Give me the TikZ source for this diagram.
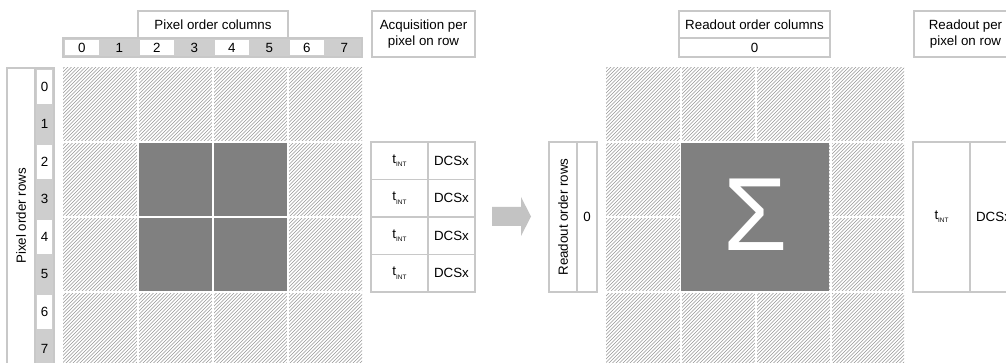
\documentclass[tikz,border=0pt]{standalone}
\usepackage{fontspec}
\setmainfont{Liberation Sans}
\usetikzlibrary{fit}
\definecolor{bordergray}{RGB}{200,200,200}
\definecolor{cellgray}{RGB}{206,206,206}
\definecolor{darkfill}{RGB}{128,128,128}
\definecolor{hatchgray}{RGB}{150,150,150}
\definecolor{arrowgray}{RGB}{195,195,195}
\newcommand{\tint}{t\raisebox{-2.4pt}{\fontsize{4.8}{5}\selectfont INT}}
\begin{document}
\begin{tikzpicture}[x=0.75pt,y=-0.75pt,
  font=\fontsize{10}{12.6}\selectfont,
  bx/.style={draw=bordergray,line width=1.2pt,inner sep=0pt,fill=white},
  strip/.style={draw=bordergray,line width=1.2pt,inner sep=0pt,fill=cellgray},
  cell/.style={inner sep=0pt,draw=none},
  txt/.style={inner sep=0pt,align=center},
  dk/.style={fill=darkfill,inner sep=0pt,draw=none},
  hatchline/.style={draw=hatchgray,line width=0.42pt},
  gap/.style={fill=white}]
\useasboundingbox (0,0) rectangle (1006,363);
\clip (0,0) rectangle (1006,363);

% ---------- left grid ----------
\begin{scope}
  \clip (63,68) rectangle (362,370);
  \foreach \i in {0,...,172} \draw[hatchline] ({63-305+3.5*\i},370) -- ++(305,-305);
\end{scope}
\foreach \g in {137,212,287} \fill[gap] (\g,68) rectangle ({\g+2},370);
\foreach \g in {141,216,291} \fill[gap] (63,\g) rectangle (362,{\g+2});
\node[dk,fit={(139,143) (212,216)}] (g22) {};
\node[dk,fit={(214,143) (287,216)}] (g23) {};
\node[dk,fit={(139,218) (212,291)}] (g32) {};
\node[dk,fit={(214,218) (287,291)}] (g33) {};

% column header
\node[bx,fit={(138,11) (288,38)}] (pcol) {};
\node[txt] (pcolt) at (pcol.center) {Pixel order columns};
\node[strip,fit={(63,38) (362,57)}] (cstrip) {};
\foreach \k/\f in {0/white,1/cellgray,2/white,3/cellgray,4/white,5/cellgray,6/white,7/cellgray} {
  \node[cell,fill=\f,fit={({63+37.5*\k+1.6},39.6) ({63+37.5*\k+35.9},55.4)}] (pc\k) {};
  \node[txt] (pct\k) at (pc\k.center) {\k};
}

% row header
\node[bx,fit={(7,68) (35,368)}] (prow) {};
\node[txt,rotate=90] (prowl) at (21,216) {Pixel order rows};
\node[strip,fit={(35,68) (54,380)}] (rstrip) {};
\foreach \k/\f in {0/white,1/cellgray,2/white,3/cellgray,4/white,5/cellgray,6/white,7/cellgray} {
  \node[cell,fill=\f,fit={(36.6,{68+37.5*\k+1.6}) (52.4,{68+37.5*\k+35.9})}] (pr\k) {};
  \node[txt] (prt\k) at (pr\k.center) {\k};
}

% acquisition
\node[bx,fit={(372,11) (475,57)}] (acq) {};
\node[txt] (acqt) at (acq.center) {Acquisition per\\pixel on row};
\foreach \k in {0,1,2,3} {
  \node[bx,fit={(371,{142+37.5*\k}) (428,{142+37.5*(\k+1)})}] (at\k) {};
  \node[txt] (att\k) at (at\k.center) {\tint};
  \node[bx,fit={(428,{142+37.5*\k}) (475,{142+37.5*(\k+1)})}] (ad\k) {};
  \node[txt] (adt\k) at (ad\k.center) {DCSx};
}

% block arrow
\fill[arrowgray] (492,207) -- (521,207) -- (521,197) -- (531,216.5) -- (521,236) -- (521,226) -- (492,226) -- cycle;

% ---------- right grid ----------
\begin{scope}
  \clip (606,68) rectangle (904,370);
  \foreach \i in {0,...,172} \draw[hatchline] ({606-305+3.5*\i},370) -- ++(305,-305);
\end{scope}
\foreach \g in {679.5,754.5,829.5} \fill[gap] (\g,68) rectangle ({\g+2},370);
\foreach \g in {141,216,291} \fill[gap] (606,\g) rectangle (904,{\g+2});
\node[dk,fit={(681,143) (829,291)}] (sum) {};
\node[txt,text=white,font=\fontsize{78}{78}\selectfont] (sumt) at (756,215) {Σ};

\node[bx,fit={(679,11) (830,38)}] (rcol) {};
\node[txt] (rcolt) at (rcol.center) {Readout order columns};
\node[bx,fit={(679,38) (830,57)}] (rcol0) {};
\node[txt] (rcol0t) at (rcol0.center) {0};

\node[bx,fit={(549,142) (577,292)}] (rrow) {};
\node[txt,rotate=90] (rrowl) at (rrow.center) {Readout order rows};
\node[bx,fit={(577,142) (597,292)}] (rrow0) {};
\node[txt] (rrow0t) at (rrow0.center) {0};

\node[bx,fit={(914,11) (1017,57)}] (rdo) {};
\node[txt] (rdot) at (rdo.center) {Readout per\\pixel on row};
\node[bx,fit={(913,142) (970,292)}] (rt) {};
\node[txt] (rtt) at (rt.center) {\tint};
\node[bx,fit={(970,142) (1017,292)}] (rd) {};
\node[txt] (rdt) at (rd.center) {DCSx};
\end{tikzpicture}
\end{document}
